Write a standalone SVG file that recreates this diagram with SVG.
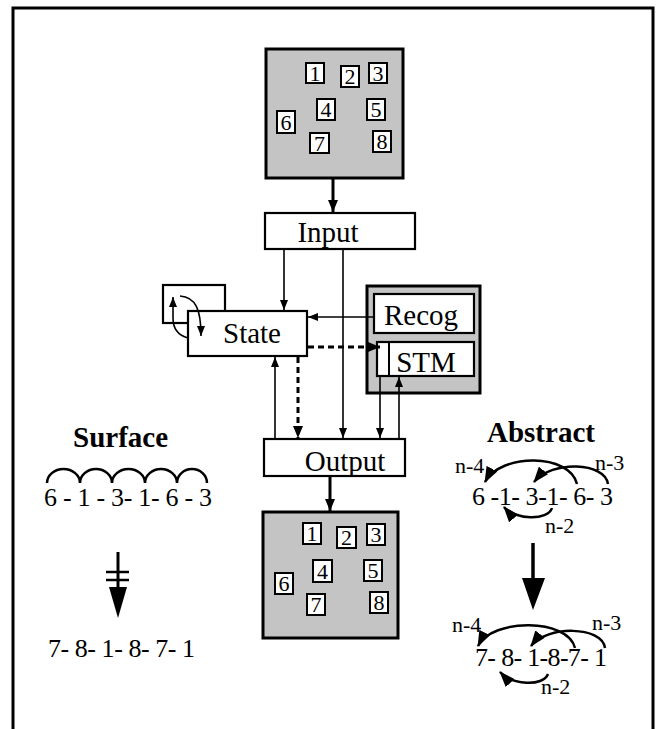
<svg xmlns="http://www.w3.org/2000/svg" width="661" height="729" viewBox="0 0 661 729">
<defs>
<style>
.t{font-family:"Liberation Serif","Times New Roman",serif;fill:#000}
.lbl{font-size:29px}
.num{font-size:22px;text-anchor:middle}
.seq{font-size:26px}
.nl{font-size:22px}
.bold{font-size:29px;font-weight:bold}
.box{fill:#fff;stroke:#000;stroke-width:2.2}
.panel{fill:#c4c4c4;stroke:#000;stroke-width:3}
.nb{fill:#fff;stroke:#000;stroke-width:2}
.c{fill:none;stroke:#000;stroke-width:1.6}
.d{fill:none;stroke:#000;stroke-width:3;stroke-dasharray:6 4}
.k{fill:none;stroke:#000;stroke-width:3}
.a{fill:none;stroke:#000;stroke-width:2.5}
</style>
<marker id="ah" viewBox="0 0 10 8" refX="10" refY="4" markerWidth="10" markerHeight="8" markerUnits="userSpaceOnUse" orient="auto"><path d="M0,0 L10,4 L0,8 z" fill="#000"/></marker>
<marker id="ahb" viewBox="0 0 12 10" refX="12" refY="5" markerWidth="12" markerHeight="10" markerUnits="userSpaceOnUse" orient="auto"><path d="M0,0 L12,5 L0,10 z" fill="#000"/></marker>
<marker id="ahs" viewBox="0 0 16 12" refX="15" refY="6" markerWidth="16" markerHeight="12" markerUnits="userSpaceOnUse" orient="auto"><path d="M0,0 L16,6 L0,12 z" fill="#000"/></marker>
</defs>
<rect width="661" height="729" fill="#fff"/>
<path d="M13,729 L13,8 L653,8 L653,729" fill="none" stroke="#000" stroke-width="3"/>

<g id="top-panel">
<rect class="panel" x="266" y="49" width="137" height="129"/>
<rect class="nb" x="306" y="63" width="18" height="20"/><text class="t num" x="315" y="81">1</text>
<rect class="nb" x="341" y="66" width="18" height="21"/><text class="t num" x="350" y="84">2</text>
<rect class="nb" x="369" y="63" width="18" height="20"/><text class="t num" x="378" y="81">3</text>
<rect class="nb" x="317" y="99" width="18" height="21"/><text class="t num" x="326" y="117">4</text>
<rect class="nb" x="367" y="99" width="18" height="21"/><text class="t num" x="376" y="117">5</text>
<rect class="nb" x="277" y="111" width="18" height="22"/><text class="t num" x="286" y="130">6</text>
<rect class="nb" x="310" y="133" width="19" height="20"/><text class="t num" x="319.5" y="151">7</text>
<rect class="nb" x="373" y="131" width="18" height="21"/><text class="t num" x="382" y="149">8</text>
</g>

<g id="input">
<rect class="box" x="265" y="213" width="150" height="36"/>
<text class="t lbl" x="328" y="242" text-anchor="middle">Input</text>
</g>

<g id="loop">
<rect class="box" x="163" y="285" width="62" height="38"/>
</g>

<g id="state">
<rect class="box" x="188" y="311" width="119" height="45"/>
<text class="t lbl" x="252" y="343" text-anchor="middle">State</text>
</g>

<g id="recog-stm">
<rect class="panel" x="367" y="286" width="113" height="107"/>
<g id="recog">
<rect class="box" x="374" y="294" width="100" height="39"/>
<text class="t lbl" x="421" y="325" text-anchor="middle">Recog</text>
</g>
<g id="stm">
<rect class="box" x="377" y="342" width="97" height="34"/>
<line x1="389" y1="342" x2="389" y2="376" stroke="#000" stroke-width="2"/>
<text class="t lbl" x="426" y="372" text-anchor="middle">STM</text>
</g>
</g>

<g id="output">
<rect class="box" x="264" y="439" width="141" height="37"/>
<text class="t lbl" x="345" y="471" text-anchor="middle">Output</text>
</g>

<g id="bottom-panel">
<rect class="panel" x="263" y="512" width="135" height="126"/>
<rect class="nb" x="303" y="523" width="18" height="21"/><text class="t num" x="312" y="541">1</text>
<rect class="nb" x="337" y="527" width="19" height="21"/><text class="t num" x="346.5" y="545">2</text>
<rect class="nb" x="367" y="524" width="18" height="21"/><text class="t num" x="376" y="542">3</text>
<rect class="nb" x="313" y="560" width="19" height="22"/><text class="t num" x="322.5" y="579">4</text>
<rect class="nb" x="364" y="560" width="18" height="21"/><text class="t num" x="373" y="578">5</text>
<rect class="nb" x="275" y="573" width="18" height="21"/><text class="t num" x="284" y="591">6</text>
<rect class="nb" x="307" y="594" width="18" height="21"/><text class="t num" x="316" y="612">7</text>
<rect class="nb" x="370" y="592" width="18" height="21"/><text class="t num" x="379" y="610">8</text>
</g>

<g id="connectors">
<path class="k" d="M333,179 L333,212" marker-end="url(#ahb)"/>
<path class="c" d="M284,250 L284,310" marker-end="url(#ah)"/>
<path class="c" d="M343,250 L343,438" marker-end="url(#ah)"/>
<path class="c" d="M374,317 L308,317" marker-end="url(#ah)"/>
<path class="d" d="M308,347 L380,347" marker-end="url(#ahb)"/>
<path class="d" d="M298,357 L298,438" marker-end="url(#ahb)"/>
<path class="c" d="M275,438 L275,357" marker-end="url(#ah)"/>
<path class="c" d="M380,377 L380,438" marker-end="url(#ah)"/>
<path class="c" d="M399,438 L399,377" marker-end="url(#ah)"/>
<path class="k" d="M330,477 L330,511" marker-end="url(#ahb)"/>
<path class="c" d="M188,338 Q173,334 173,318 L173,297" marker-end="url(#ah)"/>
<path class="c" d="M180,296 C196,297 201,310 201,336" marker-end="url(#ah)"/>
</g>

<g id="surface">
<text class="t bold" x="73" y="447">Surface</text>
<path class="a" d="M47,483 A16.5,14 0 0 1 80,483 A16,14 0 0 1 112,483 A16.5,14 0 0 1 145,483 A16,14 0 0 1 177,483 A15,14 0 0 1 207,483"/>
<text class="t seq" x="44" y="506" textLength="168" lengthAdjust="spacing">6 - 1 - 3- 1- 6 - 3</text>
<line x1="118" y1="552" x2="118" y2="590" stroke="#000" stroke-width="3"/>
<line x1="106" y1="572" x2="129" y2="572" stroke="#000" stroke-width="2.5"/>
<line x1="106" y1="580" x2="129" y2="580" stroke="#000" stroke-width="2.5"/>
<polygon points="109,587 127,587 118,618" fill="#000"/>
<text class="t seq" x="48" y="657" textLength="147" lengthAdjust="spacing">7- 8- 1- 8- 7- 1</text>
</g>

<g id="abstract">
<text class="t bold" x="487" y="442">Abstract</text>
<text class="t nl" x="455" y="473">n-4</text>
<text class="t nl" x="595" y="470">n-3</text>
<text class="t seq" x="472" y="505" textLength="141" lengthAdjust="spacing">6 -1- 3-1- 6- 3</text>
<text class="t nl" x="545" y="533">n-2</text>
<path class="a" d="M577,484 C570,453 500,453 485,482" marker-end="url(#ahs)"/>
<path class="a" d="M608,484 C605,462 552,460 534,482" marker-end="url(#ahs)"/>
<path class="a" d="M552,508 C548,521 515,520 504,507" marker-end="url(#ahs)"/>
<line x1="533" y1="543" x2="533" y2="580" stroke="#000" stroke-width="3.5"/>
<polygon points="522,578 545,578 533,610" fill="#000"/>
<text class="t nl" x="452" y="632">n-4</text>
<text class="t nl" x="592" y="630">n-3</text>
<text class="t seq" x="475" y="666" textLength="132" lengthAdjust="spacing">7- 8- 1-8-7- 1</text>
<text class="t nl" x="541" y="694">n-2</text>
<path class="a" d="M575,648 C568,618 492,618 478,646" marker-end="url(#ahs)"/>
<path class="a" d="M605,648 C602,626 547,625 531,646" marker-end="url(#ahs)"/>
<path class="a" d="M548,674 C543,687 512,685 500,672" marker-end="url(#ahs)"/>
</g>
</svg>
